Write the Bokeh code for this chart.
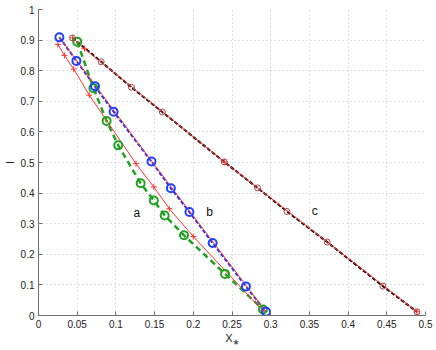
from bokeh.plotting import figure
from bokeh.models import FixedTicker, Label
from bokeh.embed import file_html
from bokeh.resources import INLINE

# data set a (green)
a_x = [0.050, 0.071, 0.088, 0.103, 0.132, 0.149, 0.163, 0.188, 0.241, 0.290]
a_y = [0.895, 0.743, 0.636, 0.556, 0.432, 0.376, 0.327, 0.262, 0.136, 0.020]
# model for a (red, + markers)
a_fit_x = [0.025, 0.0335, 0.0456, 0.0657, 0.126, 0.149, 0.169, 0.200, 0.290]
a_fit_y = [0.886, 0.850, 0.805, 0.720, 0.496, 0.420, 0.349, 0.258, 0.015]

# data set b (blue)
b_x = [0.027, 0.049, 0.073, 0.097, 0.146, 0.171, 0.195, 0.225, 0.268, 0.294]
b_y = [0.909, 0.832, 0.749, 0.666, 0.503, 0.416, 0.338, 0.237, 0.095, 0.012]
b_fit_x = [0.027, 0.146, 0.294]
b_fit_y = [0.909, 0.505, 0.012]

# data set c (black)
c_x = [0.044, 0.081, 0.120, 0.160, 0.240, 0.283, 0.321, 0.373, 0.445, 0.489]
c_y = [0.907, 0.829, 0.746, 0.665, 0.502, 0.417, 0.340, 0.240, 0.096, 0.012]
c_fit_x = [0.044, 0.0594, 0.240, 0.489]
c_fit_y = [0.907, 0.872, 0.502, 0.012]

x_ticks = [0, 0.05, 0.1, 0.15, 0.2, 0.25, 0.3, 0.35, 0.4, 0.45, 0.5]
x_labels = ["0", "0.05", "0.1", "0.15", "0.2", "0.25", "0.3", "0.35", "0.4", "0.45", "0.5"]
y_ticks = [0, 0.1, 0.2, 0.3, 0.4, 0.5, 0.6, 0.7, 0.8, 0.9, 1]
y_labels = ["0", "0.1", "0.2", "0.3", "0.4", "0.5", "0.6", "0.7", "0.8", "0.9", "1"]

curve_labels = ["a", "b", "c"]
label_x = [0.127, 0.221, 0.357]
label_y = [0.335, 0.338, 0.340]

FONT = "Liberation Sans"

p = figure(width=436, height=350, x_range=(0, 0.5), y_range=(0, 1),
           output_backend="svg", toolbar_location=None,
           min_border_left=37, min_border_right=11, min_border_top=9, min_border_bottom=35)
p.outline_line_color = None
p.background_fill_color = "white"

for ax, ticks, labels in ((p.xaxis[0], x_ticks, x_labels), (p.yaxis[0], y_ticks, y_labels)):
    ax.ticker = FixedTicker(ticks=ticks)
    ax.major_label_overrides = {t: l for t, l in zip(ticks, labels)}
    ax.minor_tick_line_color = None
    ax.major_tick_in = 4
    ax.major_tick_out = 0
    ax.axis_line_color = "#707070"
    ax.major_tick_line_color = "#707070"
    ax.major_label_text_font = FONT
    ax.major_label_text_font_size = "10px"
    ax.major_label_text_color = "#222222"
    ax.major_label_standoff = 4
    ax.axis_label_text_font = FONT
    ax.axis_label_text_font_size = "11px"
    ax.axis_label_text_font_style = "normal"
    ax.axis_label_text_color = "#222222"
    ax.axis_label_standoff = 2

p.xaxis.axis_label_standoff = 1
p.xaxis.axis_label = "X\u204e"
p.yaxis.axis_label = "I"

for g in (p.xgrid[0], p.ygrid[0]):
    g.ticker = FixedTicker(ticks=x_ticks if g is p.xgrid[0] else y_ticks)
    g.grid_line_color = "#c0c0c0"
    g.grid_line_dash = "1 3"
    g.grid_line_width = 1

# data lines (dashed)
p.line(c_x, c_y, line_color="black", line_width=2, line_dash="4 2")
p.line(b_x, b_y, line_color="#2030ff", line_width=2, line_dash="4 2")
p.line(a_x, a_y, line_color="#22a022", line_width=2.5, line_dash="6 4")

# model curves (red)
p.line(a_fit_x, a_fit_y, line_color="#ff3030", line_width=1)
p.scatter(a_fit_x, a_fit_y, marker="cross", size=6, line_color="#ff3030", line_width=1)
p.line(b_fit_x, b_fit_y, line_color="#ff3030", line_width=1)
p.line(c_fit_x, c_fit_y, line_color="#ff3030", line_width=1)
p.scatter(c_fit_x, c_fit_y, marker="cross", size=6, line_color="#ff3030", line_width=1)

# markers
p.scatter(a_x, a_y, marker="circle", size=8, fill_color=None, line_color="#22a022", line_width=2)
p.scatter(b_x, b_y, marker="circle", size=8, fill_color=None, line_color="#2040ff", line_width=2)
p.scatter(c_x, c_y, marker="circle", size=6, fill_color=None, line_color="#a04848", line_width=1)

for t, lx, ly in zip(curve_labels, label_x, label_y):
    p.add_layout(Label(x=lx, y=ly, text=t, text_font=FONT, text_font_size="12px",
                       text_align="center", text_baseline="middle", text_color="#111111"))

open("out.html", "w").write(file_html(p, INLINE))
